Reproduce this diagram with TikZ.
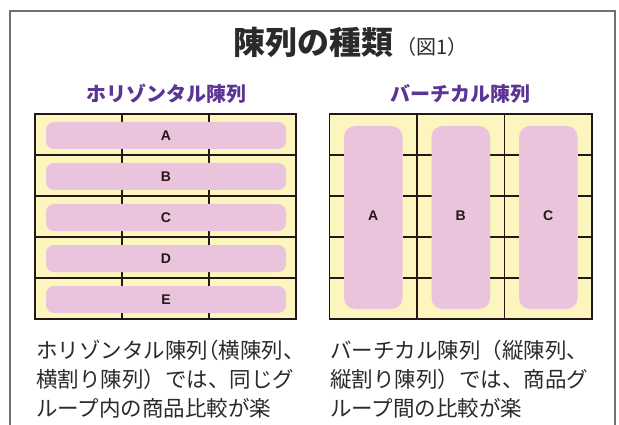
\documentclass[tikz,border=0pt]{standalone}
\usepackage{fontspec}
\newfontfamily\jp{Noto Sans CJK JP}
\newfontfamily\lat{Liberation Sans}
\definecolor{shelf}{HTML}{FCF5BE}
\definecolor{goods}{HTML}{EAC4DD}
\definecolor{subcol}{HTML}{5B3494}
\definecolor{ink}{HTML}{231815}
\definecolor{txt}{HTML}{2A2A2A}
\definecolor{framecol}{HTML}{707070}
\begin{document}
\begin{tikzpicture}[x=1pt,y=-1pt,
  shelfline/.style={draw=ink,line width=1.6pt},
  goodsbar/.style={fill=goods,rounded corners=8pt},
  goodscol/.style={fill=goods,rounded corners=11pt},
  letter/.style={font=\lat\bfseries\fontsize{14}{14}\selectfont,text=ink,inner sep=0},
  body/.style={font=\jp\fontsize{21.5}{29}\selectfont,text=txt,anchor=west,inner sep=0},
  subtitle/.style={font=\jp\bfseries\fontsize{20}{20}\selectfont,text=subcol,inner sep=0}]
\useasboundingbox (0,0) rectangle (619,425);
\fill[white] (0,0) rectangle (619,425);
% outer frame
\draw[framecol,line width=1.3pt] (10,430) -- (10,11) -- (615,11) -- (615,430);
% title
\node[font=\jp\bfseries\fontsize{32}{32}\selectfont,text=txt,inner sep=0] (title) at (313,42) {陳列の種類};
\node[font=\jp\fontsize{20}{20}\selectfont,text=txt,anchor=west,inner sep=0] (fig) at (396,46.5) {（図1）};
% subtitles
\node[subtitle] (subH) at (166,94) {ホリゾンタル陳列};
\node[subtitle] (subV) at (460,94) {バーチカル陳列};
% ---------- horizontal display ----------
\fill[shelf] (35,114) rectangle (296,319);
\foreach \i/\L in {0/A,1/B,2/C,3/D,4/E}{
  \pgfmathsetmacro{\t}{114+41*\i}
  \draw[shelfline] (122,\t) -- ++(0,8) (122,\t+41) -- ++(0,-8)
                   (209,\t) -- ++(0,8) (209,\t+41) -- ++(0,-8);
  \fill[goodsbar] (46,\t+8) rectangle (286,\t+35);
  \node[letter] (h\L) at (166,\t+21.5) {\L};
}
\foreach \y in {155,196,237,278}{
  \draw[shelfline] (35,\y) -- (296,\y);
}
\draw[shelfline] (35,114) rectangle (296,319);
% ---------- vertical display ----------
\fill[shelf] (329.5,114) rectangle (592,319);
\foreach \i/\L in {0/A,1/B,2/C}{
  \pgfmathsetmacro{\l}{329.5+87.5*\i}
  \foreach \y in {155,196,237,278}{
    \draw[shelfline] (\l,\y) -- ++(14.5,0) (\l+87.5,\y) -- ++(-14.5,0);
  }
  \fill[goodscol] (\l+14.5,126) rectangle (\l+73,309);
  \node[letter] (v\L) at (\l+43.75,216) {\L};
}
\draw[shelfline] (417,114) -- (417,319) (504.5,114) -- (504.5,319);
\draw[shelfline] (329.5,114) rectangle (592,319);
% ---------- captions ----------
\node[body] (l1) at (36,350) {ホリゾンタル陳列\makebox[0.5em][r]{（}横陳列、};
\node[body] (l2) at (36,379) {横割り陳列）では、同じグ};
\node[body] (l3) at (36,408) {ループ内の商品比較が楽};
\node[body] (r1) at (330,350) {バーチカル陳列（縦陳列、};
\node[body] (r2) at (330,379) {縦割り陳列）では、商品グ};
\node[body] (r3) at (330,408) {ループ間の比較が楽};
\end{tikzpicture}
\end{document}
